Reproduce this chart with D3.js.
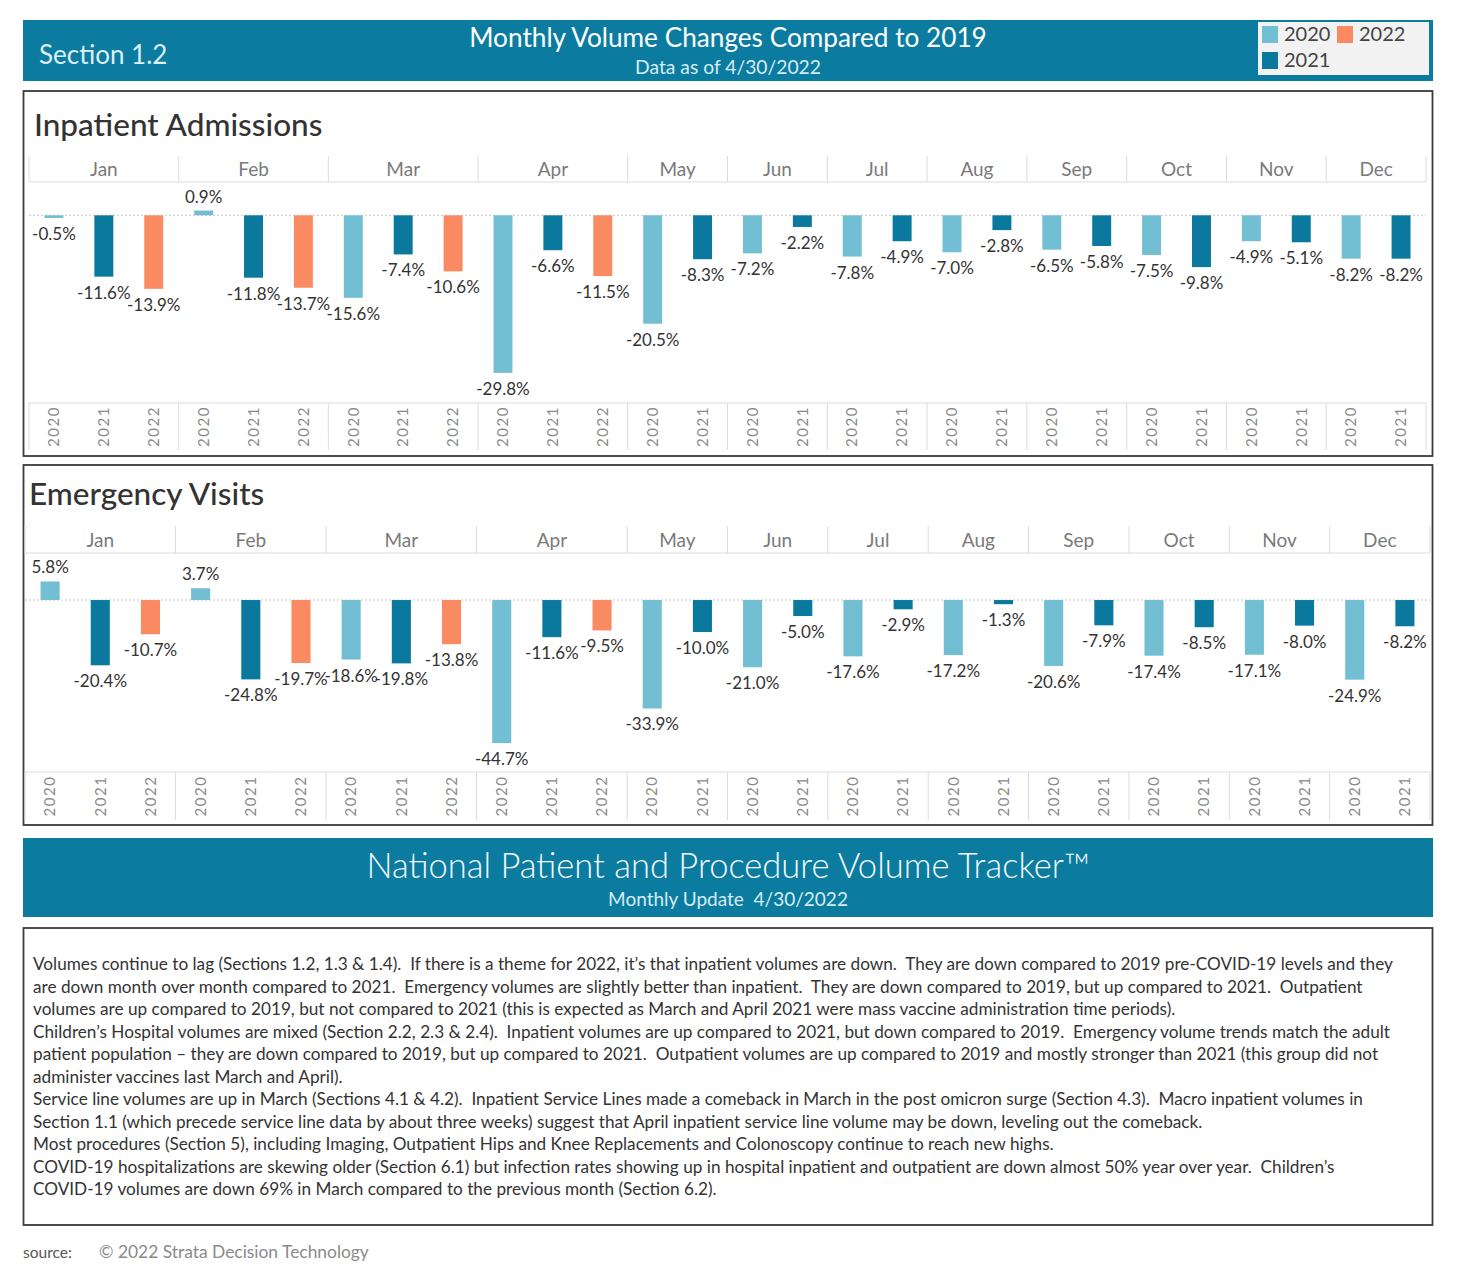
<!DOCTYPE html>
<html>
<head>
<meta charset="utf-8">
<script src="https://cdn.jsdelivr.net/npm/d3@7"></script>
<style>
  body { margin: 0; background: #fff; }
  svg text { font-family: Lato, "Open Sans", sans-serif; white-space: pre; }
</style>
</head>
<body>
<svg id="chart" width="1460" height="1283"></svg>
<script>
const months = ["Jan", "Feb", "Mar", "Apr", "May", "Jun", "Jul", "Aug", "Sep", "Oct", "Nov", "Dec"];
const years = ["2020", "2021", "2022"];

const inpatient2020 = [-0.5, 0.9, -15.6, -29.8, -20.5, -7.2, -7.8, -7.0, -6.5, -7.5, -4.9, -8.2];
const inpatient2021 = [-11.6, -11.8, -7.4, -6.6, -8.3, -2.2, -4.9, -2.8, -5.8, -9.8, -5.1, -8.2];
const inpatient2022 = [-13.9, -13.7, -10.6, -11.5];

const emergency2020 = [5.8, 3.7, -18.6, -44.7, -33.9, -21.0, -17.6, -17.2, -20.6, -17.4, -17.1, -24.9];
const emergency2021 = [-20.4, -24.8, -19.8, -11.6, -10.0, -5.0, -2.9, -1.3, -7.9, -8.5, -8.0, -8.2];
const emergency2022 = [-10.7, -19.7, -13.8, -9.5];

const summaryLines = [
  "Volumes continue to lag (Sections 1.2, 1.3 & 1.4).  If there is a theme for 2022, it\u2019s that inpatient volumes are down.  They are down compared to 2019 pre-COVID-19 levels and they",
  "are down month over month compared to 2021.  Emergency volumes are slightly better than inpatient.  They are down compared to 2019, but up compared to 2021.  Outpatient",
  "volumes are up compared to 2019, but not compared to 2021 (this is expected as March and April 2021 were mass vaccine administration time periods).",
  "Children\u2019s Hospital volumes are mixed (Section 2.2, 2.3 & 2.4).  Inpatient volumes are up compared to 2021, but down compared to 2019.  Emergency volume trends match the adult",
  "patient population \u2013 they are down compared to 2019, but up compared to 2021.  Outpatient volumes are up compared to 2019 and mostly stronger than 2021 (this group did not",
  "administer vaccines last March and April).",
  "Service line volumes are up in March (Sections 4.1 & 4.2).  Inpatient Service Lines made a comeback in March in the post omicron surge (Section 4.3).  Macro inpatient volumes in",
  "Section 1.1 (which precede service line data by about three weeks) suggest that April inpatient service line volume may be down, leveling out the comeback.",
  "Most procedures (Section 5), including Imaging, Outpatient Hips and Knee Replacements and Colonoscopy continue to reach new highs.",
  "COVID-19 hospitalizations are skewing older (Section 6.1) but infection rates showing up in hospital inpatient and outpatient are down almost 50% year over year.  Children\u2019s",
  "COVID-19 volumes are down 69% in March compared to the previous month (Section 6.2)."
];

const colors = { "2020": "#72bfd3", "2021": "#0b789d", "2022": "#fa8a61" };
const banner = "#0b7ca0";

const svg = d3.select("#chart");

// top banner
svg.append("rect").attr("x", 23).attr("y", 20).attr("width", 1410).attr("height", 61).attr("fill", banner);
svg.append("text").attr("x", 39).attr("y", 64).attr("font-size", 26).attr("fill", "#dcefF4").text("Section 1.2");
svg.append("text").attr("x", 728).attr("y", 47).attr("text-anchor", "middle").attr("font-size", 26.2)
  .attr("fill", "#fff").text("Monthly Volume Changes Compared to 2019");
svg.append("text").attr("x", 728).attr("y", 74).attr("text-anchor", "middle").attr("font-size", 19.3)
  .attr("fill", "#d6ecf3").text("Data as of 4/30/2022");

// legend
const legend = svg.append("g");
legend.append("rect").attr("x", 1258).attr("y", 22).attr("width", 171).attr("height", 53).attr("fill", "#f2f2f2");
const legendItems = [
  { year: "2020", x: 1262, y: 26 },
  { year: "2022", x: 1337, y: 26 },
  { year: "2021", x: 1262, y: 52 }
];
legendItems.forEach(d => {
  legend.append("rect").attr("x", d.x).attr("y", d.y).attr("width", 16).attr("height", 17).attr("fill", colors[d.year]);
  legend.append("text").attr("x", d.x + 22).attr("y", d.y + 15).attr("font-size", 20).attr("fill", "#444").text(d.year);
});

function drawPanel(cfg) {
  const series = { "2020": cfg.s2020, "2021": cfg.s2021, "2022": cfg.s2022 };
  const cols = [];
  months.forEach((m, i) => {
    years.forEach(yr => {
      if (series[yr][i] !== undefined) cols.push({ key: m + "-" + yr, month: m, year: yr, value: series[yr][i] });
    });
  });

  const g = svg.append("g");
  g.append("rect").attr("x", 23.5).attr("y", cfg.boxTop).attr("width", 1409).attr("height", cfg.boxBottom - cfg.boxTop)
    .attr("fill", "none").attr("stroke", "#3a3a3a").attr("stroke-width", 1.8);
  g.append("text").attr("x", cfg.titleX).attr("y", cfg.titleY).attr("font-size", 31.5).attr("font-weight", 500)
    .attr("fill", "#333").text(cfg.title);

  const x = d3.scaleBand().domain(cols.map(d => d.key)).range(cfg.xRange).paddingInner(0.62).paddingOuter(0.31);
  const step = x.step();
  const y = d3.scaleLinear().domain(cfg.domain).range([cfg.plotBottom, cfg.plotTop]);

  // month header
  const monthSpans = months.map(m => {
    const c = cols.filter(d => d.month === m);
    const x0 = x(c[0].key) - step * 0.31;
    return { month: m, x0: x0, x1: x0 + step * c.length };
  });
  const grid = "#dcdcdc";
  g.selectAll(".mdiv").data(monthSpans).join("line")
    .attr("x1", d => d.x0).attr("x2", d => d.x0)
    .attr("y1", cfg.headerTop).attr("y2", cfg.plotTop)
    .attr("stroke", grid);
  g.append("line").attr("x1", cfg.xRange[1]).attr("x2", cfg.xRange[1]).attr("y1", cfg.headerTop).attr("y2", cfg.plotTop).attr("stroke", grid);
  g.append("line").attr("x1", cfg.xRange[0]).attr("x2", cfg.xRange[1]).attr("y1", cfg.plotTop).attr("y2", cfg.plotTop).attr("stroke", grid);
  g.selectAll(".mlab").data(monthSpans).join("text")
    .attr("x", d => (d.x0 + d.x1) / 2).attr("y", (cfg.headerTop + cfg.plotTop) / 2 + 7)
    .attr("text-anchor", "middle").attr("font-size", 19).attr("fill", "#7a7a7a")
    .text(d => d.month);

  // year axis area
  g.append("line").attr("x1", cfg.xRange[0]).attr("x2", cfg.xRange[1]).attr("y1", cfg.plotBottom).attr("y2", cfg.plotBottom).attr("stroke", grid);
  g.selectAll(".ydiv").data(monthSpans).join("line")
    .attr("x1", d => d.x0).attr("x2", d => d.x0)
    .attr("y1", cfg.plotBottom).attr("y2", cfg.yearBottom)
    .attr("stroke", grid);
  g.append("line").attr("x1", cfg.xRange[1]).attr("x2", cfg.xRange[1]).attr("y1", cfg.plotBottom).attr("y2", cfg.yearBottom).attr("stroke", grid);
  const yearMid = (cfg.plotBottom + cfg.yearBottom) / 2;
  g.selectAll(".ylab").data(cols).join("text")
    .attr("transform", d => `translate(${x(d.key) + x.bandwidth() / 2},${yearMid}) rotate(-90)`)
    .attr("text-anchor", "middle").attr("dy", "0.35em")
    .attr("font-family", "'Liberation Sans', Arial, sans-serif")
    .attr("font-size", 15).attr("letter-spacing", 1.5).attr("fill", "#8a8a8a")
    .text(d => d.year);

  // zero line
  g.append("line").attr("x1", cfg.xRange[0]).attr("x2", cfg.xRange[1]).attr("y1", y(0)).attr("y2", y(0))
    .attr("stroke", "#c8c8c8").attr("stroke-dasharray", "2,2");

  // bars
  g.selectAll(".bar").data(cols).join("rect")
    .attr("x", d => x(d.key)).attr("width", x.bandwidth())
    .attr("y", d => y(Math.max(0, d.value)))
    .attr("height", d => Math.abs(y(d.value) - y(0)))
    .attr("fill", d => colors[d.year]);

  // labels
  g.selectAll(".lab").data(cols).join("text")
    .attr("x", d => x(d.key) + x.bandwidth() / 2)
    .attr("y", d => d.value < 0 ? y(d.value) + 22 : y(d.value) - 8)
    .attr("text-anchor", "middle").attr("font-size", 17).attr("fill", "#333")
    .text(d => d.value.toFixed(1) + "%");
}

drawPanel({
  title: "Inpatient Admissions", titleX: 34, titleY: 136,
  s2020: inpatient2020, s2021: inpatient2021, s2022: inpatient2022,
  boxTop: 91, boxBottom: 456, headerTop: 156, plotTop: 182, plotBottom: 403, yearBottom: 450,
  xRange: [29, 1426], domain: [-35.5, 6.3]
});

drawPanel({
  title: "Emergency Visits", titleX: 29, titleY: 505,
  s2020: emergency2020, s2021: emergency2021, s2022: emergency2022,
  boxTop: 465, boxBottom: 825, headerTop: 526, plotTop: 553, plotBottom: 772, yearBottom: 820,
  xRange: [25, 1430], domain: [-53.75, 14.7]
});

// lower banner
svg.append("rect").attr("x", 23).attr("y", 838).attr("width", 1410).attr("height", 79).attr("fill", banner);
svg.append("text").attr("x", 728).attr("y", 878).attr("text-anchor", "middle").attr("font-size", 34.5)
  .attr("font-weight", 300).attr("fill", "#f4fafc").text("National Patient and Procedure Volume Tracker\u2122");
svg.append("text").attr("x", 728).attr("y", 906).attr("text-anchor", "middle").attr("font-size", 19)
  .attr("fill", "#d6ecf3").text("Monthly Update  4/30/2022");

// summary text box
svg.append("rect").attr("x", 23.5).attr("y", 928).attr("width", 1409).attr("height", 297)
  .attr("fill", "none").attr("stroke", "#3a3a3a").attr("stroke-width", 1.8);
svg.selectAll(".para").data(summaryLines).join("text")
  .attr("x", 33).attr("y", (d, i) => 970 + i * 22.5)
  .attr("font-size", 17.2).attr("fill", "#333")
  .text(d => d);

// footer
svg.append("text").attr("x", 23).attr("y", 1258).attr("font-size", 15.5).attr("fill", "#555").text("source:");
svg.append("text").attr("x", 99).attr("y", 1258).attr("font-size", 17.4).attr("fill", "#8a8a8a").text("\u00a9 2022 Strata Decision Technology");
</script>
</body>
</html>
